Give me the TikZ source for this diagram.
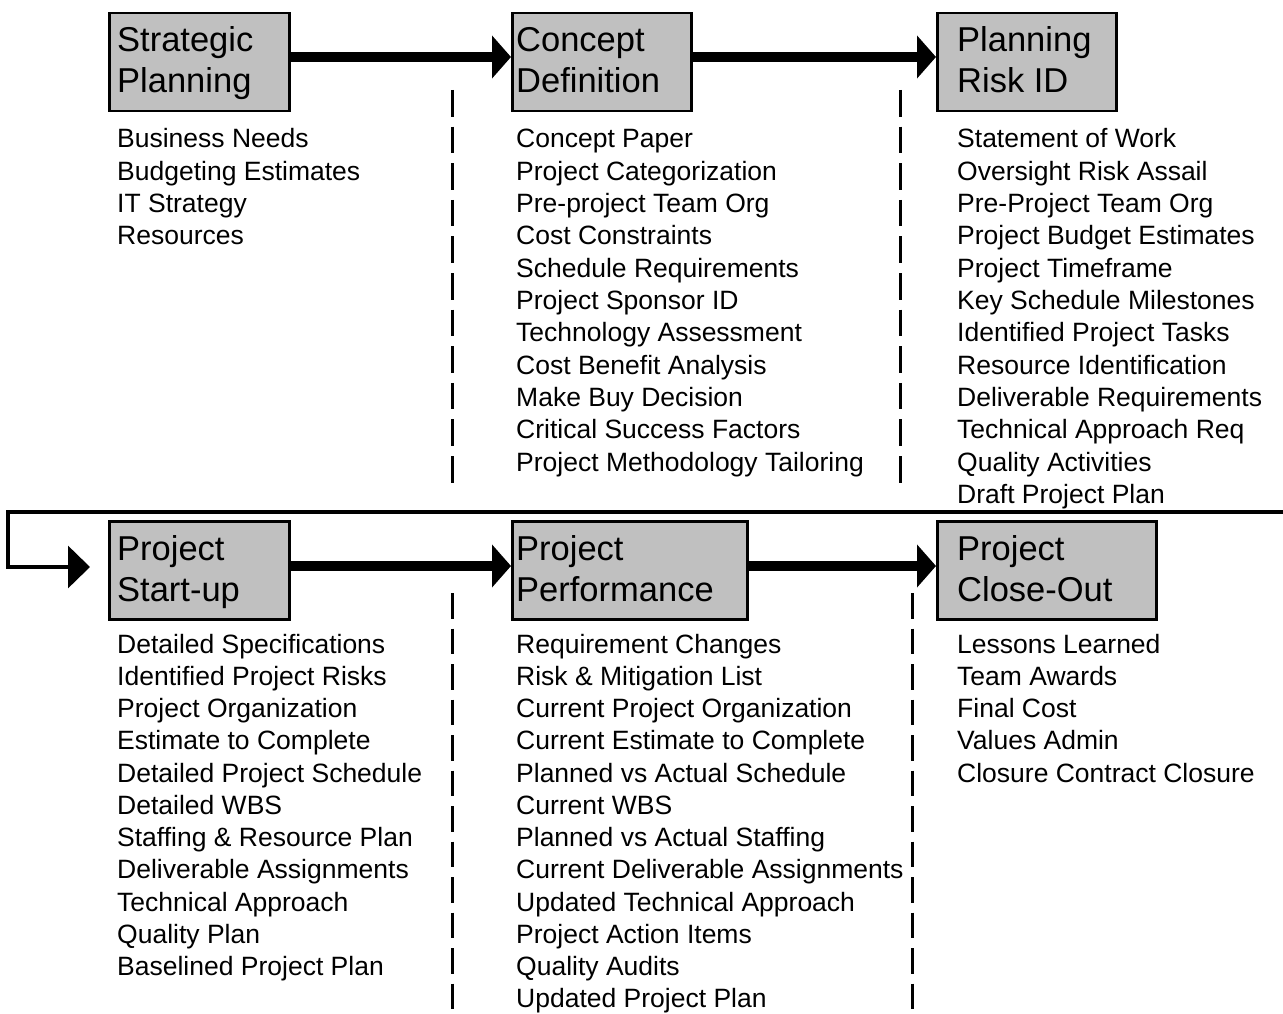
\documentclass[tikz,border=0pt]{standalone}
\usepackage{fontspec}
\setmainfont{Liberation Sans}
\usetikzlibrary{arrows.meta}
\definecolor{boxgray}{RGB}{192,192,192}
\begin{document}
\begin{tikzpicture}[x=1pt,y=-1pt,
  stagebox/.style={draw=black, line width=2.5pt, fill=boxgray, anchor=north west, inner sep=0pt, minimum height=98pt},
  ttl/.style={anchor=base west, inner sep=0pt, font=\fontsize{34.5}{41}\selectfont},
  itm/.style={anchor=base west, inner sep=0pt, font=\fontsize{26.5}{32}\selectfont},
  bigarrow/.style={line width=10pt, -{Triangle[length=19pt,width=42pt]}},
  retarrow/.style={line width=3.5pt, -{Triangle[length=22pt,width=42pt]}},
  sepone/.style={line width=3pt, dash pattern=on 26.6pt off 10pt},
  septwo/.style={line width=3pt, dash pattern=on 25.5pt off 10pt}]
\useasboundingbox (0,0) rectangle (1283,1014);

% boxes
\node[stagebox, minimum width=180pt] (b1) at (108,12) {};
\node[stagebox, minimum width=179pt] (b2) at (511,12) {};
\node[stagebox, minimum width=179pt] (b3) at (936,12) {};
\node[stagebox, minimum width=180pt] (b4) at (108,520) {};
\node[stagebox, minimum width=235pt] (b5) at (511,520) {};
\node[stagebox, minimum width=219pt] (b6) at (936,520) {};

% titles
\node[ttl] (t1a) at (117,52) {Strategic};
\node[ttl] (t1b) at (117,93) {Planning};
\node[ttl] (t2a) at (516,52) {Concept};
\node[ttl] (t2b) at (516,93) {Definition};
\node[ttl] (t3a) at (957,52) {Planning};
\node[ttl] (t3b) at (957,93) {Risk ID};
\node[ttl] (t4a) at (117,560) {Project};
\node[ttl] (t4b) at (117,601) {Start-up};
\node[ttl] (t5a) at (516,560) {Project};
\node[ttl] (t5b) at (516,601) {Performance};
\node[ttl] (t6a) at (957,560) {Project};
\node[ttl] (t6b) at (957,601) {Close-Out};

% arrows
\draw[bigarrow] (b1.east |- 0,57) -- (b2.west |- 0,57);
\draw[bigarrow] (b2.east |- 0,57) -- (b3.west |- 0,57);
\draw[bigarrow] (b4.east |- 0,566) -- (b5.west |- 0,566);
\draw[bigarrow] (b5.east |- 0,566) -- (b6.west |- 0,566);

% return connector
\coordinate (rin) at (1283,512);
\coordinate (rcorner) at (8,512);
\coordinate (rtip) at (90,567);
\draw[retarrow] (rin) -- (rcorner) |- (rtip);

% separators
\draw[sepone] (452,90) -- (452,483);
\draw[sepone] (900,90) -- (900,483);
\draw[septwo] (452,593) -- (452,1014);
\draw[septwo] (912,593) -- (912,1014);

% lists
\foreach \t [count=\i from 0] in {Business Needs,Budgeting Estimates,IT Strategy,Resources}
  \node[itm] (la-\i) at (117,148+\i*32.3) {\t};
\foreach \t [count=\i from 0] in {Concept Paper,Project Categorization,Pre-project Team Org,Cost Constraints,Schedule Requirements,Project Sponsor ID,Technology Assessment,Cost Benefit Analysis,Make Buy Decision,Critical Success Factors,Project Methodology Tailoring}
  \node[itm] (lb-\i) at (516,148+\i*32.3) {\t};
\foreach \t [count=\i from 0] in {Statement of Work,Oversight Risk Assail,Pre-Project Team Org,Project Budget Estimates,Project Timeframe,Key Schedule Milestones,Identified Project Tasks,Resource Identification,Deliverable Requirements,Technical Approach Req,Quality Activities,Draft Project Plan}
  \node[itm] (lc-\i) at (957,148+\i*32.3) {\t};
\foreach \t [count=\i from 0] in {Detailed Specifications,Identified Project Risks,Project Organization,Estimate to Complete,Detailed Project Schedule,Detailed WBS,Staffing \& Resource Plan,Deliverable Assignments,Technical Approach,Quality Plan,Baselined Project Plan}
  \node[itm] (ld-\i) at (117,653+\i*32.25) {\t};
\foreach \t [count=\i from 0] in {Requirement Changes,Risk \& Mitigation List,Current Project Organization,Current Estimate to Complete,Planned vs Actual Schedule,Current WBS,Planned vs Actual Staffing,Current Deliverable Assignments,Updated Technical Approach,Project Action Items,Quality Audits,Updated Project Plan}
  \node[itm] (le-\i) at (516,653+\i*32.25) {\t};
\foreach \t [count=\i from 0] in {Lessons Learned,Team Awards,Final Cost,Values Admin,Closure Contract Closure}
  \node[itm] (lf-\i) at (957,653+\i*32.25) {\t};
\end{tikzpicture}
\end{document}
